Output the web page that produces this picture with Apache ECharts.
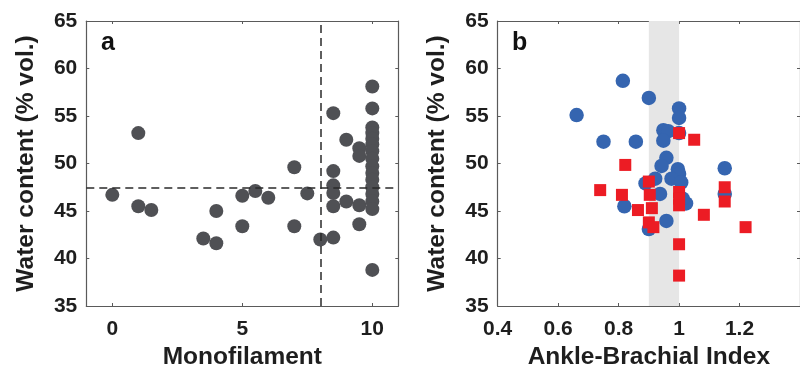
<!DOCTYPE html>
<html>
<head>
<meta charset="utf-8">
<script src="https://cdn.jsdelivr.net/npm/echarts@6/dist/echarts.min.js"></script>
<style>
html,body{margin:0;padding:0;background:#fff;}
#chart{width:800px;height:375px;}
</style>
</head>
<body>
<div id="chart"></div>
<script>
// Panel a: Monofilament score vs water content
const monoX = [0, 1, 1, 1.5, 3.5, 4, 4, 5, 5, 5.5, 6, 7, 7, 7.5, 8,
  8.5, 8.5, 8.5, 8.5, 8.5, 8.5,
  9, 9,
  9.5, 9.5, 9.5, 9.5,
  10, 10, 10, 10, 10, 10, 10, 10, 10, 10, 10, 10, 10, 10, 10, 10];
const monoY = [46.7, 53.2, 45.5, 45.1, 42.1, 45.0, 41.6, 46.6, 43.4, 47.1, 46.4, 49.6, 43.4, 46.85, 42.0,
  55.3, 49.2, 47.7, 46.9, 45.5, 42.2,
  52.5, 46.0,
  51.6, 50.8, 45.6, 43.6,
  58.1, 55.8, 53.8, 53.2, 52.6, 52.0, 51.3, 50.5, 49.7, 49.0, 48.3, 47.5, 46.8, 46.0, 45.2, 38.8];
const monoThreshold = 8;
const waterThreshold = 47.5;

// Panel b: Ankle-Brachial Index vs water content
const abiBlueX = [0.814, 0.9, 0.661, 1.0, 1.0, 0.948, 0.964, 1.0, 0.948, 0.75, 0.857, 0.958, 0.942, 1.151, 0.996,
  1.0, 0.975, 0.921, 0.889, 1.007, 0.937, 0.819, 1.023, 1.012, 1.151, 0.958, 0.9];
const abiBlueY = [58.7, 56.9, 55.1, 55.8, 54.8, 53.5, 53.4, 53.2, 52.4, 52.3, 52.3, 50.6, 49.75, 49.5, 49.4,
  48.9, 48.4, 48.4, 47.9, 48.0, 46.8, 45.5, 45.8, 46.3, 46.8, 43.95, 43.1];
const abiRedX = [1.0, 1.05, 0.822, 0.9, 0.739, 0.811, 0.903, 1.0, 1.0, 1.0, 1.151, 1.151, 0.864, 0.91, 1.082,
  0.9, 0.915, 1.0, 1.0, 1.22];
const abiRedY = [53.2, 52.5, 49.85, 48.1, 47.2, 46.7, 46.7, 47.0, 46.3, 45.6, 47.5, 46.0, 45.1, 45.3, 44.6,
  43.8, 43.3, 41.5, 38.2, 43.3];
const abiBand = [0.9, 1.0];

// Tick labels
const xTicksA = [0, 5, 10];
const xTicksB = [0.4, 0.6, 0.8, 1, 1.2];
const yTicks = [35, 40, 45, 50, 55, 60, 65];

const FONT = '"Liberation Sans", Arial, Helvetica, sans-serif';
const TXT = '#1e1e1e';
const AX = '#5a5a5a';

function zip(xs, ys) { return xs.map((x, i) => [x, ys[i]]); }

function xAxisPair(grid, min, max, ticks, name) {
  return [
    {
      gridIndex: grid, type: 'value', position: 'bottom', min: min, max: max,
      axisLine: { show: true, onZero: false, lineStyle: { color: AX, width: 1.2 } },
      axisTick: { show: true, inside: true, length: 3, customValues: ticks, lineStyle: { color: AX } },
      axisLabel: { show: true, customValues: ticks, margin: 13, color: TXT, fontFamily: FONT, fontWeight: 'bold', fontSize: 21,
        formatter: v => String(v) },
      splitLine: { show: false },
      name: name, nameLocation: 'middle', nameGap: 39,
      nameTextStyle: { color: TXT, fontFamily: FONT, fontWeight: 'bold', fontSize: 24.5 }
    },
    {
      gridIndex: grid, type: 'value', position: 'top', min: min, max: max,
      axisLine: { show: true, onZero: false, lineStyle: { color: AX, width: 1.2 } },
      axisTick: { show: true, inside: true, length: 3, customValues: ticks, lineStyle: { color: AX } },
      axisLabel: { show: false },
      splitLine: { show: false }
    }
  ];
}
function yAxisPair(grid) {
  return [
    {
      gridIndex: grid, type: 'value', position: 'left', min: 35, max: 65, interval: 5,
      axisLine: { show: true, onZero: false, lineStyle: { color: AX, width: 1.2 } },
      axisTick: { show: true, inside: true, length: 3, lineStyle: { color: AX } },
      axisLabel: { show: true, margin: 9, color: TXT, fontFamily: FONT, fontWeight: 'bold', fontSize: 21,
        customValues: yTicks },
      splitLine: { show: false },
      name: 'Water content (% vol.)', nameLocation: 'middle', nameGap: 48, nameRotate: 90,
      nameTextStyle: { color: TXT, fontFamily: FONT, fontWeight: 'bold', fontSize: 24.5 }
    },
    {
      gridIndex: grid, type: 'value', position: 'right', min: 35, max: 65, interval: 5,
      axisLine: { show: true, onZero: false, lineStyle: { color: AX, width: 1.2 } },
      axisTick: { show: true, inside: true, length: 3, lineStyle: { color: AX } },
      axisLabel: { show: false },
      splitLine: { show: false }
    }
  ];
}

const chart = echarts.init(document.getElementById('chart'), null, { renderer: 'canvas' });
const option = {
  animation: false,
  backgroundColor: '#ffffff',
  grid: [
    { left: 86.3, top: 21, width: 312, height: 293 },
    { left: 497.7, top: 21, width: 311.5, height: 293 }
  ],
  xAxis: [].concat(xAxisPair(0, -1, 11, xTicksA, 'Monofilament'), xAxisPair(1, 0.4, 1.4, xTicksB, 'Ankle-Brachial Index')),
  yAxis: [].concat(yAxisPair(0), yAxisPair(1)),
  series: [
    {
      type: 'scatter', xAxisIndex: 0, yAxisIndex: 0, z: 2,
      symbol: 'circle', symbolSize: 14,
      itemStyle: { color: '#4f5054', opacity: 1 },
      data: zip(monoX, monoY),
      markLine: {
        silent: true, symbol: 'none', z: 5,
        label: { show: false },
        lineStyle: { color: '#2a2a2a', type: [8, 5], width: 1.5 },
        data: [{ xAxis: monoThreshold }, { yAxis: waterThreshold }]
      }
    },
    {
      type: 'scatter', xAxisIndex: 2, yAxisIndex: 2, z: 2,
      symbol: 'circle', symbolSize: 14.5,
      itemStyle: { color: '#3565b0', opacity: 1 },
      data: zip(abiBlueX, abiBlueY),
      markArea: {
        silent: true, z: 1,
        itemStyle: { color: '#e6e6e6' },
        data: [[{ xAxis: abiBand[0] }, { xAxis: abiBand[1] }]]
      }
    },
    {
      type: 'scatter', xAxisIndex: 2, yAxisIndex: 2, z: 3,
      symbol: 'rect', symbolSize: 12,
      itemStyle: { color: '#ec1c24', opacity: 1 },
      data: zip(abiRedX, abiRedY)
    }
  ],
  graphic: [
    { type: 'text', left: 101, top: 31, style: { text: 'a', fill: '#111', font: 'bold 25px ' + FONT } },
    { type: 'text', left: 512, top: 31, style: { text: 'b', fill: '#111', font: 'bold 25px ' + FONT } }
  ]
};
chart.setOption(option);
</script>
</body>
</html>
